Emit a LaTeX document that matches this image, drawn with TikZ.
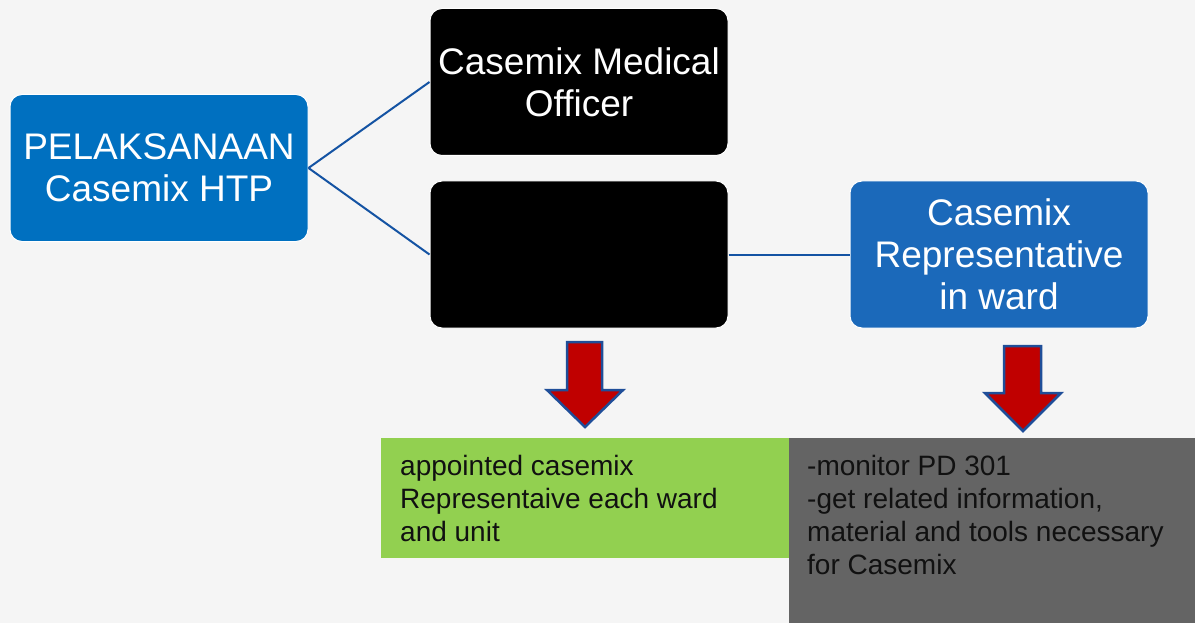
\documentclass[tikz,border=0pt]{standalone}
\usepackage{fontspec}
\setmainfont{Liberation Sans}
\definecolor{bg}{HTML}{F5F5F5}
\definecolor{rootblue}{HTML}{0070C0}
\definecolor{repblue}{HTML}{1B69BA}
\definecolor{linkblue}{HTML}{1453A3}
\definecolor{arrowred}{HTML}{C00000}
\definecolor{arrowblue}{HTML}{1F4E99}
\definecolor{taskgreen}{HTML}{92D050}
\definecolor{dutygray}{HTML}{646464}
\definecolor{notetext}{HTML}{111111}
\begin{document}
\begin{tikzpicture}[x=1pt,y=-1pt]
\tikzset{
  card/.style={rectangle, rounded corners=12pt, draw=white, line width=1pt,
    minimum width=298pt, minimum height=147pt, align=center, text=white,
    font=\fontsize{37}{42}\selectfont, inner sep=0pt},
  link/.style={draw=linkblue, line width=2pt},
  downarrow/.style={fill=arrowred, draw=arrowblue, line width=2.5pt, line join=miter},
  panel/.style={rectangle, anchor=north west, inner sep=0pt, draw=none},
  note/.style={font=\fontsize{28}{33}\selectfont, align=left, anchor=north west,
    inner sep=0pt, text=notetext}
}
% page background
\fill[bg] (0,0) rectangle (1195,623);
\useasboundingbox (0,0) rectangle (1195,623);

% main boxes
\node[card, fill=rootblue] (root) at (159,168) {PELAKSANAAN\\Casemix HTP};
\node[card, fill=black] (mo) at (579,82) {Casemix Medical\\Officer};
\node[card, fill=black] (blank) at (579,254.5) {};
\node[card, fill=repblue] (rep) at (999,254.5) {Casemix\\Representative\\in ward};

% connectors
\draw[link] (root.east) -- (mo.west);
\draw[link] (root.east) -- (blank.west);
\draw[link] (blank.east) -- (rep.west);

% lower panels
\node[panel, fill=taskgreen, minimum width=408pt, minimum height=120pt] (task) at (381,438) {};
\node[panel, fill=dutygray, minimum width=406pt, minimum height=185pt] (duty) at (789,438) {};
\node[note] (tasktext) at (400,455) {appointed casemix\\Representaive each ward\\and unit};
\node[note] (dutytext) at (807,455) {-monitor PD 301\\-get related information,\\material and tools necessary\\for Casemix};

% block arrows
\draw[downarrow] (567,342) -- (602,342) -- (602,390) -- (623,390) -- (585,427)
  -- (547,390) -- (567,390) -- cycle;
\draw[downarrow] (1004,346) -- (1041,346) -- (1041,393) -- (1061,393) -- (1023,431)
  -- (985,393) -- (1004,393) -- cycle;
\end{tikzpicture}
\end{document}
